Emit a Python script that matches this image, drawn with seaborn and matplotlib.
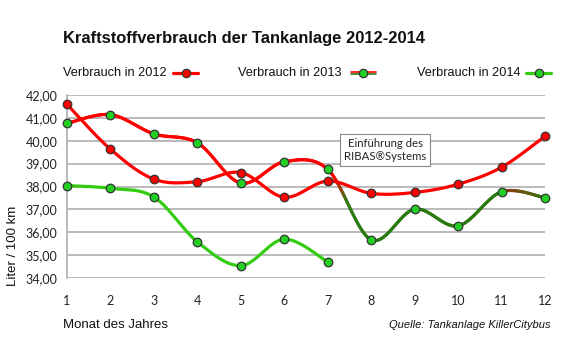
import numpy as np
import matplotlib
matplotlib.use("Agg")
import matplotlib.pyplot as plt
import seaborn as sns
from matplotlib.collections import LineCollection
from matplotlib.lines import Line2D
from matplotlib.colors import to_rgb

# ---- Daten ----
monate = list(range(1, 13))
verbrauch_2012 = [41.59, 39.63, 38.32, 38.21, 38.61, 37.53, 38.24, 37.70, 37.74, 38.10, 38.84, 40.20]
verbrauch_2013 = [40.76, 41.14, 40.30, 39.91, 38.15, 39.08, 38.75, 35.67, 37.01, 36.28, 37.77, 37.51]
verbrauch_2014 = [38.04, 37.92, 37.54, 35.58, 34.54, 35.70, 34.70]
y_ticks = [34, 35, 36, 37, 38, 39, 40, 41, 42]

ROT = "#ff0000"
GRUEN_HELL = "#33cc11"
GRUEN_DUNKEL = "#2a7a10"
MARKER_GRUEN = "#22d022"

sns.set_theme(style="white")
plt.rcParams["font.family"] = ["Liberation Sans", "DejaVu Sans"]


def glatt(x, y, n=30):
    # geglättete Linie wie in Excel (Bezier durch die Punkte)
    pts = np.column_stack([x, y]).astype(float)
    p = np.vstack([pts[0], pts, pts[-1]])
    teile = []
    t = np.linspace(0, 1, n)[:, None]
    for i in range(len(pts) - 1):
        p0, p1, p2, p3 = p[i], p[i + 1], p[i + 2], p[i + 3]
        c1 = p1 + (p2 - p0) / 6
        c2 = p2 - (p3 - p1) / 6
        teile.append((1 - t) ** 3 * p1 + 3 * (1 - t) ** 2 * t * c1
                     + 3 * (1 - t) * t ** 2 * c2 + t ** 3 * p2)
    return teile


def mischen(a, b, f):
    return tuple(np.array(to_rgb(a)) * (1 - f) + np.array(to_rgb(b)) * f)


fig = plt.figure(figsize=(5.8, 3.5), dpi=100)
ax = fig.add_axes([67 / 580, 1 - 278 / 350, (545 - 67) / 580, (278 - 95) / 350])

# Linie 2012
k12 = np.vstack(glatt(monate, verbrauch_2012))
sns.lineplot(x=k12[:, 0], y=k12[:, 1], sort=False, estimator=None, color=ROT,
             lw=2.3, ax=ax, zorder=3)

# Linie 2014
k14 = np.vstack(glatt(monate[:7], verbrauch_2014))
sns.lineplot(x=k14[:, 0], y=k14[:, 1], sort=False, estimator=None, color=GRUEN_HELL,
             lw=2.3, ax=ax, zorder=3)

# Linie 2013 mit Farbwechsel
segs, cols = [], []
for i, teil in enumerate(glatt(monate, verbrauch_2013)):
    for j in range(len(teil) - 1):
        f = j / (len(teil) - 2)
        if i < 6:
            c = to_rgb(ROT)
        elif i == 6:
            c = mischen(ROT, GRUEN_DUNKEL, np.clip((f - 0.15) / 0.3, 0, 1))
        elif i < 10:
            c = to_rgb(GRUEN_DUNKEL)
        else:
            c = mischen("#9a3510", GRUEN_DUNKEL, f)
        segs.append(teil[j:j + 2])
        cols.append(c)
ax.add_collection(LineCollection(segs, colors=cols, linewidths=2.3, zorder=2.5,
                                 capstyle="round"))

# Marker
for yy, fc in [(verbrauch_2013, MARKER_GRUEN), (verbrauch_2014, MARKER_GRUEN), (verbrauch_2012, ROT)]:
    sns.scatterplot(x=monate[:len(yy)], y=yy, s=38, color=fc, edgecolor="#333333",
                    linewidth=0.9, ax=ax, zorder=5, clip_on=False)

ax.set_xlim(1, 12)
ax.set_ylim(34, 42)
ax.set_xticks(monate)
ax.set_yticks(y_ticks)
ax.set_yticklabels([f"{v:.2f}".replace(".", ",") for v in y_ticks])
ax.grid(axis="y", color="#b4b4b4", lw=1.3)
ax.set_axisbelow(True)
for s in ["top", "right", "bottom"]:
    ax.spines[s].set_visible(False)
ax.spines["left"].set_color("#b4b4b4")
ax.spines["left"].set_linewidth(1.3)
ax.tick_params(length=0)
ax.tick_params(axis="y", pad=7)
ax.tick_params(axis="x", pad=12)
for lab in ax.get_xticklabels() + ax.get_yticklabels():
    lab.set_family(["Lato", "DejaVu Sans"])
    lab.set_fontsize(9)
    lab.set_color("#222222")

# Titel
fig.text(63 / 580, 1 - 39 / 350, "Kraftstoffverbrauch der Tankanlage 2012-2014",
         fontsize=11.9, weight="bold", va="center", ha="left", color="#111111")

# Legende
legende = [("Verbrauch in 2012", 63, 173, 198),
           ("Verbrauch in 2013", 238, 351, 376),
           ("Verbrauch in 2014", 417, 526, 551)]
yl = 1 - 73 / 350
for (txt, tx, x0, x1), nr in zip(legende, [2012, 2013, 2014]):
    fig.text(tx / 580, yl, txt, fontsize=9.2, va="center", ha="left", color="#111111")
    xm = (x0 + x1) / 2 / 580
    if nr == 2012:
        fig.add_artist(Line2D([x0 / 580, x1 / 580], [yl, yl], color=ROT, lw=2.3))
        fc = ROT
    elif nr == 2013:
        fig.add_artist(Line2D([x0 / 580, x1 / 580], [yl + 1 / 350, yl + 1 / 350], color=ROT, lw=1.2))
        fig.add_artist(Line2D([x0 / 580, x1 / 580], [yl - 1 / 350, yl - 1 / 350], color=GRUEN_DUNKEL, lw=1.2))
        fc = MARKER_GRUEN
    else:
        fig.add_artist(Line2D([x0 / 580, x1 / 580], [yl, yl], color=GRUEN_HELL, lw=2.3))
        fc = MARKER_GRUEN
    fig.add_artist(Line2D([xm], [yl], marker="o", ms=6, mfc=fc, mec="#333333", mew=0.9))

# Hinweis-Box
fig.text(385 / 580, 1 - 150 / 350, "Einführung des\nRIBAS®Systems", fontsize=8.2,
         family=["Lato", "DejaVu Sans"], ha="center", va="center", linespacing=1.3,
         bbox=dict(boxstyle="square,pad=0.35", fc="white", ec="#888888", lw=0.8))

# Achsentitel
fig.text(13 / 580, 1 - 246 / 350, "Liter / 100 km", rotation=90, fontsize=9.5,
         ha="center", va="center", color="#111111")
fig.text(63 / 580, 1 - 325 / 350, "Monat des Jahres", fontsize=9.5, ha="left",
         va="center", color="#111111")
fig.text(551 / 580, 1 - 325 / 350, "Quelle: Tankanlage KillerCitybus", fontsize=8,
         style="italic", ha="right", va="center", color="#111111")

fig.savefig("out.png", dpi=100)
